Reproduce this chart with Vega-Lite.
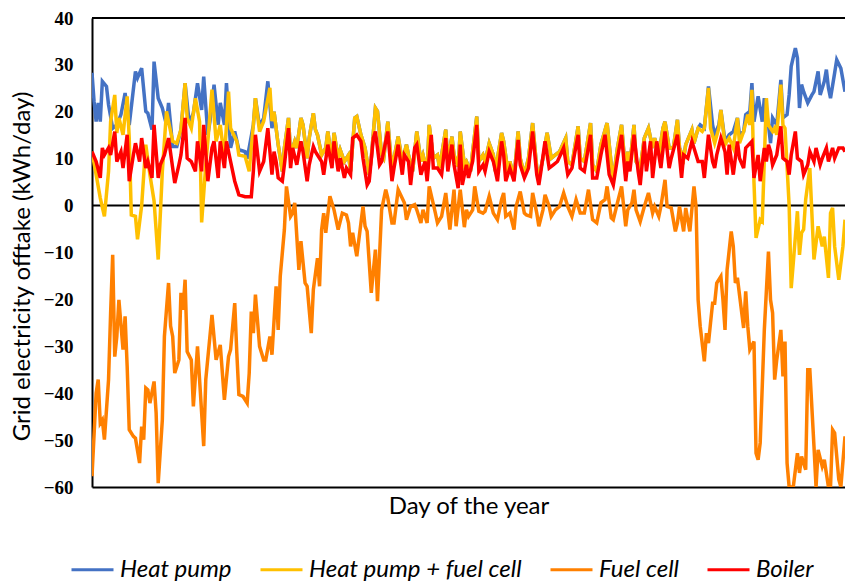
{
  "$schema": "https://vega.github.io/schema/vega-lite/v6.json",
  "width": 753,
  "height": 469,
  "autosize": {"type": "none"},
  "padding": {"left": 92, "top": 18, "right": 0, "bottom": 94},
  "background": "white",
  "config": {"view": {"stroke": null}, "font": "Lato"},
  "datasets": {
    "refs": [{"y": 0}, {"y": 40}],
    "heatpump": [
      {"d":1,"v":28.3},{"d":2,"v":22.2},{"d":3,"v":17.9},{"d":4,"v":21.9},{"d":5,"v":17.9},{"d":6,"v":26.5},{"d":8,"v":25.4},{"d":9,"v":21.5},{"d":11,"v":16.5},{"d":13,"v":17.2},{"d":15,"v":19.4},{"d":17,"v":24},{"d":19,"v":17.2},{"d":22,"v":28.6},{"d":23,"v":27.2},{"d":25,"v":29.3},{"d":27,"v":20.1},{"d":28,"v":19.7},{"d":30,"v":16.2},{"d":31,"v":30.7},{"d":33,"v":22.9},{"d":35,"v":20.8},{"d":37,"v":17.2},{"d":38,"v":21.9},{"d":40,"v":12.6},{"d":42,"v":12.6},{"d":44,"v":16.2},{"d":46,"v":26.1},{"d":48,"v":17.6},{"d":50,"v":19.7},{"d":52,"v":26.1},{"d":54,"v":20.4},{"d":55,"v":27.5},{"d":57,"v":15.1},{"d":58,"v":17.9},{"d":60,"v":25.8},{"d":62,"v":17.2},{"d":63,"v":21.9},{"d":65,"v":17.2},{"d":66,"v":26.1},{"d":68,"v":12.3},{"d":70,"v":15.8},{"d":72,"v":11.9},{"d":75,"v":11.5},{"d":76,"v":10},{"d":79,"v":17.2},{"d":80,"v":22.9},{"d":82,"v":16.9},{"d":84,"v":18.7},{"d":86,"v":26.5},{"d":88,"v":16.5},{"d":89,"v":20},
      {"d":91,"v":13},{"d":93,"v":7.3},{"d":94,"v":12.3},{"d":96,"v":18.7},{"d":97,"v":10.8},{"d":99,"v":13.7},{"d":100,"v":12.3},{"d":102,"v":18.7},{"d":103,"v":17.2},{"d":105,"v":10.1},{"d":106,"v":14.4},{"d":108,"v":19.7},{"d":109,"v":16.2},{"d":110,"v":15.1},{"d":112,"v":10.8},{"d":114,"v":12.3},{"d":115,"v":15.8},{"d":117,"v":9.4},{"d":118,"v":15.5},{"d":120,"v":10.1},{"d":121,"v":11.9},{"d":123,"v":9.4},{"d":125,"v":10.8},{"d":126,"v":7.3},{"d":128,"v":18.7},{"d":129,"v":19},{"d":131,"v":15.1},{"d":133,"v":12.3},{"d":135,"v":6.6},{"d":136,"v":10.1},{"d":138,"v":20.8},{"d":139,"v":20.1},{"d":141,"v":10.8},{"d":142,"v":10.1},{"d":144,"v":17.9},{"d":146,"v":7.3},{"d":147,"v":10.1},{"d":149,"v":14.7},{"d":151,"v":9.4},{"d":153,"v":13},{"d":154,"v":10.8},{"d":156,"v":7.3},{"d":158,"v":15.8},{"d":160,"v":9.4},{"d":161,"v":10.8},{"d":163,"v":7.3},{"d":164,"v":17.2},{"d":166,"v":10.1},{"d":168,"v":10.8},{"d":169,"v":8},{"d":172,"v":16.2},{"d":173,"v":9.4},{"d":175,"v":14.7},{"d":176,"v":10.8},{"d":178,"v":8.3},{"d":179,"v":15.8},{"d":181,"v":8.7},{"d":182,"v":9.4},{"d":184,"v":7.3},{"d":185,"v":11.5},{"d":187,"v":19},{"d":188,"v":9.4},{"d":190,"v":10.8},{"d":191,"v":9.4},{"d":193,"v":13.3},{"d":195,"v":10.8},{"d":196,"v":7.3},{"d":199,"v":15.5},{"d":200,"v":13.7},{"d":202,"v":7.3},{"d":203,"v":9.4},{"d":205,"v":5.9},{"d":207,"v":15.8},{"d":208,"v":10.1},{"d":210,"v":6.6},{"d":212,"v":10.1},{"d":214,"v":17.6},{"d":216,"v":8},{"d":217,"v":5.9},{"d":219,"v":10.1},{"d":221,"v":15.5},{"d":223,"v":10.1},{"d":225,"v":10.8},{"d":227,"v":11.5},{"d":230,"v":14.4},{"d":231,"v":9.4},{"d":233,"v":8.7},{"d":236,"v":16.9},{"d":237,"v":10.1},{"d":239,"v":9.4},{"d":242,"v":17.6},{"d":243,"v":8.7},{"d":245,"v":7.3},{"d":247,"v":13},{"d":250,"v":17.6},{"d":252,"v":8.7},{"d":253,"v":5.9},{"d":255,"v":12.3},{"d":257,"v":17.2},{"d":259,"v":6.6},{"d":260,"v":11.5},{"d":261,"v":8.7},{"d":263,"v":17.2},{"d":264,"v":9.4},{"d":266,"v":8},{"d":268,"v":14.4},{"d":270,"v":16.5},{"d":272,"v":12.3},{"d":273,"v":14.4},{"d":275,"v":10.8},{"d":277,"v":16.5},{"d":278,"v":17.9},{"d":280,"v":12.3},{"d":282,"v":12.3},{"d":284,"v":18.3},{"d":285,"v":12.3},{"d":287,"v":10.1},{"d":288,"v":13},{"d":291,"v":16.2},{"d":292,"v":13.3},
      {"d":294,"v":16.5},{"d":295,"v":17.2},{"d":297,"v":16.5},{"d":299,"v":25.4},{"d":301,"v":17.2},{"d":302,"v":15.1},{"d":304,"v":17.2},{"d":305,"v":20.4},{"d":307,"v":13.7},{"d":309,"v":15.1},{"d":311,"v":15.8},{"d":313,"v":18.7},{"d":314,"v":15.1},{"d":316,"v":15.8},{"d":317,"v":19.4},{"d":319,"v":20.1},{"d":320,"v":26.1},{"d":321,"v":17.9},{"d":323,"v":23.3},{"d":325,"v":17.9},{"d":326,"v":22.9},{"d":328,"v":17.2},{"d":329,"v":13.3},{"d":330,"v":18.7},{"d":332,"v":17.2},{"d":334,"v":26.8},{"d":335,"v":18.7},{"d":337,"v":19.4},{"d":338,"v":23.6},{"d":339,"v":29.7},{"d":341,"v":33.6},{"d":342,"v":31.5},{"d":343,"v":20.8},{"d":344,"v":25.8},{"d":345,"v":24.3},{"d":347,"v":21.9},{"d":349,"v":23.6},{"d":350,"v":24.3},{"d":352,"v":28.6},{"d":353,"v":23.6},{"d":355,"v":26.5},{"d":356,"v":29},{"d":357,"v":25.1},{"d":358,"v":22.9},{"d":360,"v":28.3},{"d":361,"v":31.1},{"d":363,"v":29.3},{"d":365,"v":24.3}
    ],
    "hpfc": [
      {"d":1,"v":11.5},{"d":3,"v":6.6},{"d":5,"v":1.6},{"d":7,"v":-2.3},{"d":9,"v":7.3},{"d":10,"v":17.9},{"d":12,"v":23.6},{"d":13,"v":15.5},{"d":14,"v":18.7},{"d":16,"v":15.1},{"d":18,"v":23.3},{"d":19,"v":14.4},{"d":20,"v":-2},{"d":22,"v":-2.3},{"d":23,"v":-7.2},{"d":25,"v":0},{"d":27,"v":13},{"d":29,"v":6.6},{"d":31,"v":1},{"d":33,"v":-11.5},{"d":35,"v":7.3},{"d":37,"v":20.1},{"d":39,"v":15.8},{"d":40,"v":13.7},{"d":42,"v":13.3},{"d":44,"v":16.2},{"d":46,"v":26.1},{"d":47,"v":18.7},{"d":49,"v":16.5},{"d":51,"v":22.9},{"d":53,"v":17.9},{"d":54,"v":-3.6},{"d":56,"v":8.7},{"d":57,"v":13.7},{"d":59,"v":24.7},{"d":61,"v":13.7},{"d":63,"v":17.2},{"d":65,"v":10.1},{"d":67,"v":24.3},{"d":68,"v":16.5},{"d":71,"v":13.7},{"d":72,"v":10.8},{"d":75,"v":10.5},{"d":77,"v":7.3},{"d":79,"v":17.2},{"d":80,"v":22.9},{"d":82,"v":15.8},{"d":84,"v":18},{"d":87,"v":25.1},{"d":88,"v":18},{"d":89,"v":20},
      {"d":91,"v":13},{"d":93,"v":7.3},{"d":94,"v":12.3},{"d":96,"v":18.7},{"d":97,"v":10.8},{"d":99,"v":13.7},{"d":100,"v":12.3},{"d":102,"v":18.7},{"d":103,"v":17.2},{"d":105,"v":10.1},{"d":106,"v":14.4},{"d":108,"v":19.7},{"d":109,"v":16.2},{"d":110,"v":15.1},{"d":112,"v":10.8},{"d":114,"v":12.3},{"d":115,"v":15.8},{"d":117,"v":9.4},{"d":118,"v":15.5},{"d":120,"v":10.1},{"d":121,"v":11.9},{"d":123,"v":9.4},{"d":125,"v":10.8},{"d":126,"v":7.3},{"d":128,"v":18.7},{"d":129,"v":19},{"d":131,"v":15.1},{"d":133,"v":12.3},{"d":135,"v":6.6},{"d":136,"v":10.1},{"d":138,"v":20.8},{"d":139,"v":20.1},{"d":141,"v":10.8},{"d":142,"v":10.1},{"d":144,"v":17.9},{"d":146,"v":7.3},{"d":147,"v":10.1},{"d":149,"v":14.7},{"d":151,"v":9.4},{"d":153,"v":13},{"d":154,"v":10.8},{"d":156,"v":7.3},{"d":158,"v":15.8},{"d":160,"v":9.4},{"d":161,"v":10.8},{"d":163,"v":7.3},{"d":164,"v":17.2},{"d":166,"v":10.1},{"d":168,"v":10.8},{"d":169,"v":8},{"d":172,"v":16.2},{"d":173,"v":9.4},{"d":175,"v":14.7},{"d":176,"v":10.8},{"d":178,"v":8.3},{"d":179,"v":15.8},{"d":181,"v":8.7},{"d":182,"v":9.4},{"d":184,"v":7.3},{"d":185,"v":11.5},{"d":187,"v":19},{"d":188,"v":9.4},{"d":190,"v":10.8},{"d":191,"v":9.4},{"d":193,"v":13.3},{"d":195,"v":10.8},{"d":196,"v":7.3},{"d":199,"v":15.5},{"d":200,"v":13.7},{"d":202,"v":7.3},{"d":203,"v":9.4},{"d":205,"v":5.9},{"d":207,"v":15.8},{"d":208,"v":10.1},{"d":210,"v":6.6},{"d":212,"v":10.1},{"d":214,"v":17.6},{"d":216,"v":8},{"d":217,"v":5.9},{"d":219,"v":10.1},{"d":221,"v":15.5},{"d":223,"v":10.1},{"d":225,"v":10.8},{"d":227,"v":11.5},{"d":230,"v":14.4},{"d":231,"v":9.4},{"d":233,"v":8.7},{"d":236,"v":16.9},{"d":237,"v":10.1},{"d":239,"v":9.4},{"d":242,"v":17.6},{"d":243,"v":8.7},{"d":245,"v":7.3},{"d":247,"v":13},{"d":250,"v":17.6},{"d":252,"v":8.7},{"d":253,"v":5.9},{"d":255,"v":12.3},{"d":257,"v":17.2},{"d":259,"v":6.6},{"d":260,"v":11.5},{"d":261,"v":8.7},{"d":263,"v":17.2},{"d":264,"v":9.4},{"d":266,"v":8},{"d":268,"v":14.4},{"d":270,"v":16.5},{"d":272,"v":12.3},{"d":273,"v":14.4},{"d":275,"v":10.8},{"d":277,"v":16.5},{"d":278,"v":17.9},{"d":280,"v":12.3},{"d":282,"v":12.3},{"d":284,"v":18.3},{"d":285,"v":12.3},{"d":287,"v":10.1},{"d":288,"v":13},{"d":291,"v":16.2},{"d":292,"v":13.3},
      {"d":294,"v":16.5},{"d":296,"v":15.8},{"d":297,"v":16.5},{"d":299,"v":25.1},{"d":300,"v":16.5},{"d":302,"v":13.3},{"d":304,"v":16.5},{"d":305,"v":20.4},{"d":307,"v":13},{"d":309,"v":14.4},{"d":311,"v":12.3},{"d":313,"v":18.7},{"d":314,"v":13.3},{"d":316,"v":15.8},{"d":318,"v":19.4},{"d":319,"v":17.2},{"d":320,"v":24.7},{"d":321,"v":5},{"d":322,"v":-6.9},{"d":324,"v":-3},{"d":325,"v":-3.4},{"d":327,"v":22.9},{"d":328,"v":17.2},{"d":330,"v":15.8},{"d":331,"v":16.5},{"d":332,"v":15.1},{"d":334,"v":25.8},{"d":335,"v":17.2},{"d":336,"v":16.5},{"d":338,"v":0},{"d":339,"v":-17.6},{"d":340,"v":-12.2},{"d":342,"v":-1.2},{"d":343,"v":-10.5},{"d":344,"v":-5.8},{"d":345,"v":-5.1},{"d":346,"v":1.3},{"d":348,"v":8},{"d":350,"v":-11.5},{"d":352,"v":-4.4},{"d":354,"v":-8.7},{"d":355,"v":-6.6},{"d":357,"v":-15.4},{"d":358,"v":-1.6},{"d":359,"v":-0.5},{"d":360,"v":-8.7},{"d":362,"v":-15.8},{"d":364,"v":-8.7},{"d":365,"v":-3}
    ],
    "fuelcell": [
      {"d":1,"v":-57.7},{"d":3,"v":-40},{"d":4,"v":-37.1},{"d":5,"v":-46.4},{"d":6,"v":-45.7},{"d":7,"v":-49.9},{"d":9,"v":-37.1},{"d":10,"v":-22.9},{"d":11,"v":-10.5},{"d":12,"v":-32.2},{"d":13,"v":-27.9},{"d":14,"v":-20.1},{"d":16,"v":-30.7},{"d":17,"v":-23.6},{"d":18,"v":-34.3},{"d":19,"v":-47.8},{"d":21,"v":-49.2},{"d":22,"v":-49.6},{"d":24,"v":-54.9},{"d":25,"v":-47.1},{"d":26,"v":-49.9},{"d":27,"v":-38.9},{"d":28,"v":-39.3},{"d":29,"v":-42.1},{"d":31,"v":-37.5},{"d":32,"v":-44.2},{"d":33,"v":-59.2},{"d":35,"v":-45.7},{"d":36,"v":-27.9},{"d":38,"v":-16.5},{"d":39,"v":-25.7},{"d":40,"v":-27.9},{"d":41,"v":-35.7},{"d":43,"v":-32.9},{"d":44,"v":-18.6},{"d":45,"v":-22.2},{"d":46,"v":-15.8},{"d":47,"v":-31.1},{"d":49,"v":-32.9},{"d":50,"v":-42.8},{"d":52,"v":-30},{"d":55,"v":-51.3},{"d":56,"v":-37.1},{"d":59,"v":-23.3},{"d":61,"v":-32.9},{"d":63,"v":-29.7},{"d":65,"v":-41.4},{"d":67,"v":-32.2},{"d":68,"v":-30.7},{"d":70,"v":-20.8},{"d":71,"v":-31.4},{"d":72,"v":-40.3},{"d":74,"v":-40.7},{"d":76,"v":-42.1},{"d":77,"v":-35.7},{"d":78,"v":-22.6},{"d":79,"v":-27.2},{"d":80,"v":-19},{"d":82,"v":-30},{"d":84,"v":-32.9},{"d":85,"v":-32.9},{"d":87,"v":-27.9},{"d":88,"v":-31.8},{"d":90,"v":-17.2},{"d":91,"v":-26.5},{"d":92,"v":-15.1},{"d":94,"v":-5.1},{"d":95,"v":4.1},{"d":97,"v":-2.3},{"d":98,"v":-1.6},{"d":99,"v":0.6},{"d":101,"v":-13.7},{"d":102,"v":-7.6},{"d":104,"v":-16.5},{"d":105,"v":-17.2},{"d":107,"v":-27.2},{"d":108,"v":-17.9},{"d":110,"v":-11.2},{"d":111,"v":-17.2},{"d":112,"v":-5.1},{"d":113,"v":-1.6},{"d":114,"v":-5.8},{"d":116,"v":2},{"d":118,"v":-0.9},{"d":120,"v":-5.1},{"d":122,"v":-1.6},{"d":124,"v":-2},{"d":125,"v":-3.7},{"d":126,"v":-8.7},{"d":127,"v":-5.8},{"d":129,"v":-10.8},{"d":131,"v":-3.7},{"d":132,"v":-0.2},{"d":133,"v":-4.4},{"d":134,"v":-5.5},{"d":136,"v":-18.6},{"d":138,"v":-9.4},{"d":139,"v":-20.4},{"d":141,"v":-0.9},{"d":143,"v":3.4},{"d":144,"v":1.6},{"d":146,"v":-3.7},{"d":147,"v":-3.7},{"d":149,"v":3.4},{"d":152,"v":0.6},{"d":153,"v":-3},{"d":155,"v":-0.2},{"d":157,"v":0.2},{"d":158,"v":-0.9},{"d":160,"v":-3.7},{"d":161,"v":-0.9},{"d":163,"v":-3.7},{"d":164,"v":4.1},{"d":167,"v":-1.6},{"d":168,"v":-3.7},{"d":170,"v":-2.3},{"d":172,"v":2.7},{"d":174,"v":-5.1},{"d":176,"v":3.4},{"d":177,"v":-4.4},{"d":179,"v":3.4},{"d":181,"v":-4.6},{"d":182,"v":-0.9},{"d":183,"v":-2.3},{"d":185,"v":-0.9},{"d":186,"v":4.1},{"d":188,"v":-1.2},{"d":190,"v":-1.6},{"d":191,"v":-1.2},{"d":193,"v":2},{"d":195,"v":-1.6},{"d":197,"v":-3},{"d":199,"v":1.3},{"d":200,"v":2.7},{"d":201,"v":-2.3},{"d":203,"v":-1.6},{"d":205,"v":-5.1},{"d":206,"v":-0.2},{"d":208,"v":3},{"d":210,"v":-1.6},{"d":211,"v":-2},{"d":213,"v":-2.3},{"d":214,"v":2.7},{"d":216,"v":-1.6},{"d":217,"v":-4.4},{"d":219,"v":-0.9},{"d":220,"v":2.3},{"d":222,"v":-0.2},{"d":223,"v":-2.3},{"d":225,"v":-0.9},{"d":227,"v":-0.2},{"d":229,"v":2.7},{"d":231,"v":-0.2},{"d":233,"v":-2.3},{"d":235,"v":1.3},{"d":237,"v":-1.6},{"d":239,"v":-1.6},{"d":241,"v":3.4},{"d":243,"v":-3},{"d":245,"v":-3.7},{"d":247,"v":0.6},{"d":249,"v":1.3},{"d":250,"v":4.1},{"d":252,"v":-2.6},{"d":253,"v":-3},{"d":255,"v":0.6},{"d":257,"v":4.1},{"d":259,"v":-4.4},{"d":260,"v":-0.9},{"d":262,"v":0.6},{"d":263,"v":3.4},{"d":264,"v":-0.9},{"d":266,"v":-3.4},{"d":268,"v":-0.2},{"d":270,"v":2.7},{"d":272,"v":-1.6},{"d":273,"v":-0.2},{"d":275,"v":-2.3},{"d":276,"v":-0.2},{"d":278,"v":5.5},{"d":279,"v":-0.2},{"d":281,"v":-0.5},{"d":283,"v":-5.5},{"d":284,"v":-3.7},{"d":285,"v":-0.2},{"d":287,"v":-5.5},{"d":288,"v":-0.5},{"d":290,"v":-5.5},{"d":292,"v":4.1},{"d":293,"v":-0.2},{"d":294,"v":-20.1},{"d":295,"v":-25.7},{"d":297,"v":-33.2},{"d":298,"v":-27.2},{"d":299,"v":-29.3},{"d":300,"v":-25},{"d":301,"v":-20.8},{"d":302,"v":-20.8},{"d":303,"v":-16.5},{"d":305,"v":-15.1},{"d":306,"v":-20.1},{"d":307,"v":-26.5},{"d":308,"v":-13.7},{"d":310,"v":-5.5},{"d":311,"v":-8.7},{"d":312,"v":-16.5},{"d":313,"v":-15.4},{"d":314,"v":-19},{"d":316,"v":-26.1},{"d":317,"v":-18.3},{"d":318,"v":-25.7},{"d":319,"v":-30.7},{"d":321,"v":-29},{"d":322,"v":-52.8},{"d":323,"v":-54.2},{"d":324,"v":-50.6},{"d":326,"v":-26.5},{"d":328,"v":-9.8},{"d":329,"v":-20.1},{"d":330,"v":-22.9},{"d":331,"v":-37.1},{"d":332,"v":-32.9},{"d":334,"v":-26.5},{"d":335,"v":-36.4},{"d":336,"v":-29},{"d":337,"v":-54.9},{"d":338,"v":-60},{"d":340,"v":-60},{"d":342,"v":-52.8},{"d":343,"v":-57},{"d":344,"v":-53.5},{"d":346,"v":-56.3},{"d":347,"v":-35},{"d":348,"v":-35},{"d":350,"v":-51.3},{"d":351,"v":-60},{"d":352,"v":-52.1},{"d":354,"v":-55.6},{"d":355,"v":-54.2},{"d":357,"v":-60},{"d":358,"v":-60},{"d":359,"v":-47.8},{"d":360,"v":-48.5},{"d":362,"v":-58.4},{"d":363,"v":-60},{"d":365,"v":-49.2}
    ],
    "boiler": [
      {"d":1,"v":11.5},{"d":3,"v":9.4},{"d":5,"v":5.9},{"d":6,"v":12.3},{"d":7,"v":10.8},{"d":9,"v":12.3},{"d":10,"v":10.8},{"d":12,"v":15.8},{"d":13,"v":9.4},{"d":15,"v":11.5},{"d":16,"v":8},{"d":18,"v":15.1},{"d":19,"v":5.2},{"d":21,"v":10.8},{"d":22,"v":13.3},{"d":24,"v":9.4},{"d":25,"v":14.4},{"d":27,"v":8},{"d":28,"v":9.4},{"d":30,"v":5.9},{"d":31,"v":17.2},{"d":33,"v":5.9},{"d":34,"v":8.7},{"d":36,"v":10.8},{"d":38,"v":14.4},{"d":40,"v":8},{"d":41,"v":4.8},{"d":43,"v":8.7},{"d":44,"v":10.8},{"d":46,"v":18.7},{"d":47,"v":10.1},{"d":49,"v":9.4},{"d":51,"v":7.3},{"d":52,"v":13.7},{"d":54,"v":7.3},{"d":55,"v":17.2},{"d":57,"v":5.2},{"d":59,"v":12.3},{"d":60,"v":13.7},{"d":62,"v":5.9},{"d":63,"v":13.7},{"d":65,"v":8},{"d":66,"v":13.7},{"d":68,"v":9.4},{"d":70,"v":5.2},{"d":72,"v":2.3},{"d":75,"v":1.9},{"d":78,"v":1.9},{"d":79,"v":7.3},{"d":80,"v":15.1},{"d":82,"v":7.3},{"d":84,"v":9.4},{"d":86,"v":16.5},{"d":88,"v":6.6},{"d":89,"v":11.5},{"d":90,"v":9.4},{"d":91,"v":5.9},{"d":93,"v":5.2},{"d":94,"v":8.7},{"d":96,"v":16.5},{"d":97,"v":8},{"d":98,"v":12.3},{"d":100,"v":8.7},{"d":102,"v":13.7},{"d":103,"v":11.5},{"d":105,"v":5.2},{"d":106,"v":8.7},{"d":108,"v":12.6},{"d":109,"v":11.5},{"d":110,"v":10.8},{"d":112,"v":9.4},{"d":113,"v":6.6},{"d":115,"v":13},{"d":117,"v":8},{"d":118,"v":13.7},{"d":120,"v":7.3},{"d":121,"v":10.1},{"d":123,"v":5.9},{"d":124,"v":8},{"d":126,"v":6.6},{"d":127,"v":14.4},{"d":129,"v":15.1},{"d":131,"v":13.7},{"d":132,"v":10.1},{"d":134,"v":4.4},{"d":135,"v":5.2},{"d":137,"v":14.4},{"d":138,"v":15.8},{"d":140,"v":8.7},{"d":141,"v":9.4},{"d":143,"v":13.7},{"d":144,"v":15.8},{"d":146,"v":5.2},{"d":147,"v":8},{"d":149,"v":13},{"d":151,"v":6.6},{"d":152,"v":10.8},{"d":154,"v":9.4},{"d":155,"v":4.4},{"d":157,"v":12.3},{"d":158,"v":13},{"d":160,"v":6.6},{"d":162,"v":9.4},{"d":163,"v":5.2},{"d":165,"v":15.1},{"d":166,"v":8},{"d":168,"v":8},{"d":170,"v":6.6},{"d":172,"v":14.4},{"d":173,"v":7.3},{"d":175,"v":13},{"d":176,"v":8.7},{"d":178,"v":3.7},{"d":179,"v":13},{"d":180,"v":4.4},{"d":182,"v":8.7},{"d":183,"v":5.9},{"d":185,"v":9.4},{"d":187,"v":17.2},{"d":188,"v":7.3},{"d":190,"v":8.7},{"d":191,"v":7.3},{"d":193,"v":11.5},{"d":195,"v":9.4},{"d":197,"v":5.2},{"d":199,"v":13.7},{"d":200,"v":10.8},{"d":201,"v":5.2},{"d":203,"v":8},{"d":205,"v":5.2},{"d":207,"v":14},{"d":208,"v":8.7},{"d":210,"v":5.9},{"d":212,"v":8},{"d":214,"v":15.8},{"d":216,"v":6.6},{"d":217,"v":4.4},{"d":218,"v":7.3},{"d":220,"v":13.7},{"d":222,"v":8},{"d":224,"v":8.7},{"d":226,"v":9.4},{"d":229,"v":12.3},{"d":231,"v":6.6},{"d":233,"v":8},{"d":236,"v":15.1},{"d":237,"v":8},{"d":239,"v":7.3},{"d":242,"v":15.1},{"d":243,"v":5.9},{"d":245,"v":5.9},{"d":247,"v":10.8},{"d":249,"v":15.1},{"d":251,"v":6.6},{"d":253,"v":4.4},{"d":255,"v":10.1},{"d":257,"v":15.1},{"d":259,"v":5.2},{"d":260,"v":9.4},{"d":261,"v":7.3},{"d":263,"v":15.1},{"d":265,"v":7.3},{"d":266,"v":4.4},{"d":268,"v":13.7},{"d":269,"v":7.3},{"d":271,"v":13.7},{"d":272,"v":5.9},{"d":274,"v":13.7},{"d":276,"v":8},{"d":278,"v":15.8},{"d":280,"v":8},{"d":281,"v":10.1},{"d":284,"v":15.1},{"d":286,"v":5.9},{"d":287,"v":10.8},{"d":289,"v":10.1},{"d":291,"v":13.7},{"d":292,"v":12.3},{"d":294,"v":9.4},{"d":296,"v":9.4},{"d":297,"v":5.9},{"d":299,"v":15.1},{"d":301,"v":9.4},{"d":302,"v":8},{"d":303,"v":10.8},{"d":305,"v":14.4},{"d":307,"v":11.5},{"d":308,"v":6.6},{"d":309,"v":13},{"d":311,"v":6.6},{"d":313,"v":13.7},{"d":314,"v":10.1},{"d":316,"v":8},{"d":317,"v":12.3},{"d":320,"v":13.7},{"d":321,"v":5.9},{"d":323,"v":10.8},{"d":324,"v":5.2},{"d":326,"v":12.3},{"d":327,"v":9.4},{"d":328,"v":13},{"d":329,"v":11.5},{"d":330,"v":8.7},{"d":332,"v":10.8},{"d":334,"v":16.9},{"d":335,"v":10.1},{"d":337,"v":9.4},{"d":338,"v":6.6},{"d":339,"v":10.8},{"d":341,"v":15.8},{"d":342,"v":10.1},{"d":344,"v":9.4},{"d":345,"v":6.6},{"d":347,"v":8.7},{"d":348,"v":11.5},{"d":350,"v":9.4},{"d":351,"v":12.3},{"d":353,"v":8.7},{"d":354,"v":10.1},{"d":356,"v":12.3},{"d":357,"v":9.4},{"d":359,"v":12.3},{"d":360,"v":10.1},{"d":362,"v":12.3},{"d":364,"v":12.3},{"d":365,"v":11.5}
    ]
  },
  "encoding": {
    "x": {
      "field": "d",
      "type": "quantitative",
      "scale": {"domain": [1, 365], "nice": false, "zero": false},
      "axis": {
        "title": "Day of the year",
        "titleFont": "Lato",
        "titleFontSize": 24,
        "titleFontWeight": "normal",
        "titleColor": "black",
        "titlePadding": 7,
        "labels": false,
        "ticks": false,
        "grid": false,
        "domainColor": "black",
        "domainWidth": 2
      }
    },
    "y": {
      "field": "v",
      "type": "quantitative",
      "scale": {"domain": [-60, 40], "nice": false},
      "axis": {
        "title": "Grid electricity offtake (kWh/day)",
        "titleFont": "Lato",
        "titleFontSize": 24,
        "titleFontWeight": "normal",
        "titleColor": "black",
        "titlePadding": 9,
        "titleY": 248,
        "values": [-60, -50, -40, -30, -20, -10, 0, 10, 20, 30, 40],
        "labelFont": "Liberation Serif",
        "labelFontWeight": "bold",
        "labelFontSize": 19,
        "labelColor": "black",
        "labelPadding": 19,
        "ticks": false,
        "grid": false,
        "domainColor": "black",
        "domainWidth": 2
      }
    },
    "color": {
      "scale": {
        "domain": ["Heat pump", "Heat pump + fuel cell", "Fuel cell", "Boiler"],
        "range": ["#4472C4", "#FFC000", "#FF8000", "#FF0000"]
      },
      "legend": {
        "title": null,
        "orient": "none",
        "legendX": -22,
        "legendY": 529,
        "direction": "horizontal",
        "symbolType": "stroke",
        "symbolSize": 1764,
        "symbolStrokeWidth": 3,
        "labelFont": "Lato",
        "labelFontStyle": "italic",
        "labelFontSize": 24,
        "labelColor": "black",
        "labelOffset": 5,
        "columnPadding": 22,
        "labelLimit": 400
      }
    }
  },
  "layer": [
    {
      "data": {"name": "refs"},
      "mark": {"type": "rule", "color": "black", "strokeWidth": 2},
      "encoding": {"y": {"field": "y", "type": "quantitative"}, "x": null, "color": null}
    },
    {
      "data": {"name": "heatpump"},
      "mark": {"type": "line", "strokeWidth": 3.5, "clip": true},
      "encoding": {"color": {"datum": "Heat pump"}}
    },
    {
      "data": {"name": "hpfc"},
      "mark": {"type": "line", "strokeWidth": 3.5, "clip": true},
      "encoding": {"color": {"datum": "Heat pump + fuel cell"}}
    },
    {
      "data": {"name": "fuelcell"},
      "mark": {"type": "line", "strokeWidth": 3.5, "clip": true},
      "encoding": {"color": {"datum": "Fuel cell"}}
    },
    {
      "data": {"name": "boiler"},
      "mark": {"type": "line", "strokeWidth": 3.5, "clip": true},
      "encoding": {"color": {"datum": "Boiler"}}
    }
  ]
}
